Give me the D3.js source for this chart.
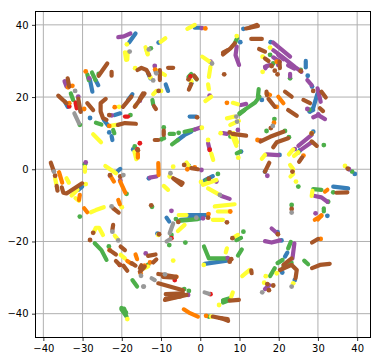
<!DOCTYPE html>
<html lang="en">
<head>
<meta charset="utf-8">
<title>scatter</title>
<script src="https://cdnjs.cloudflare.com/ajax/libs/d3/7.8.5/d3.min.js"></script>
<style>
  html, body { margin: 0; padding: 0; background: #fff; }
  svg { display: block; }
  text { font-family: "DejaVu Sans", sans-serif; font-size: 10px; fill: #000; }
</style>
</head>
<body>
<div id="main"></div>
<script>
// ticks
const xTicks = [-40,-30,-20,-10,0,10,20,30,40];
const yTicks = [-40,-20,0,20,40];

// each entry is one streak of points [x, y]; a single pair is a lone point
const red = [
  [[-33.4,17.4]],[[-31.8,18.5],[-31.5,16.9]],[[-19.2,14.6],[-18.4,14.6]],[[-15.4,7.2]],[[-16,5.5]],
  [[-2.5,25.7]],[[2.4,5.4]],[[-20.5,-26.5]],[[-6.5,-30.7]],[[2.6,-34.6]],[[15.3,7.9]],[[-7.35,-19.1]]
];
const blue = [
  [[-18.1,35.2],[-16.5,37.6]],[[-26.7,24.7],[-26,23.3]],[[-28.1,24.7],[-27.5,21.5]],
  [[-34.5,18.7],[-33.8,17.3]],[[-18.4,19.2],[-17.3,20.8]],[[-30.5,16.2]],[[-21.8,15],[-20.4,15.5]],
  [[-28.1,14.2]],[[-24.6,13.7],[-23.5,12.1]],[[-23.2,10.2]],[[-22.6,9.2],[-22.4,8.1]],
  [[-17.1,5.5]],[[-31.1,-5.7],[-30.1,-4.8]],[[-21.2,-0.65],[-20.4,0.1]],[[-13.1,-2.5]],
  [[-1.4,39.2],[-0.1,39.2]],[[11,38.9]],[[-10.6,35.1]],[[10.2,35.2]],[[-13.3,26.6],[-12.7,25.2]],
  [[-11.3,27]],[[-8.8,23.5],[-8.2,21.7]],[[-2.3,23.8]],[[15.7,19.2]],[[17.95,35.2]],
  [[26.9,30],[26.9,28.2]],[[27.4,25.9]],[[28.5,22.9]],[[29.9,21],[28.8,17],[28,16]],
  [[27.8,16],[28.8,16.4]],[[28.8,10.4]],[[25.4,5.2]],[[20.2,3.97]],[[16.5,-0.65]],[[39.4,-1.3]],
  [[33.9,-4.8],[37.7,-5.3]],[[32.4,-12.9]],[[-2.7,14.6],[-1,14.6]],[[10.4,4.9]],
  [[-5.7,8.1],[-4,9.5],[-2.3,10.4]],[[1.1,-3.1],[3.2,-1.9]],[[-3.1,-12.7],[1.5,-12.7]],
  [[-2.9,0.9]],[[-8.6,-13.4],[-7.9,-14.5]],[[-5,-14],[0,-13.6]],[[1.1,-26.2],[6.8,-25.3]],
  [[-10.9,-17.8]],[[19.7,-17.4]],[[20.7,-19.7]],[[21.6,-24.2],[22.2,-23.1]],[[20.9,-28.6]],[[24.1,-30.7]]
];
const green = [
  [[-25.9,26.4]],[[-27.6,26.8],[-26.7,24.7]],[[-28.8,26.3],[-28.4,24.7]],[[-33,21],[-32.4,19.2]],
  [[-30.7,12.3]],[[-26.6,12.9],[-25.2,12.4]],[[-22.2,10.9],[-21.9,10]],[[-17.8,15]],[[-16.7,6.3]],
  [[-29.4,1.4]],[[-18.8,-6.8]],[[-30.7,-13.1]],[[-12.6,33.5]],[[8.8,34.9],[9.4,36.3]],
  [[-2.3,26.4],[-3,25.6]],[[-0.9,24.9],[-1.4,25.6]],[[-12.2,19.2],[-12,18]],
  [[10,15.5],[12,17],[14,18.5],[15.1,20.1]],[[14.9,22.2],[14.7,20.1]],[[17.8,31.7]],[[18.6,29.3]],
  [[25.6,27.5]],[[22.9,25.2]],[[27.8,16.5]],[[18.9,13.9]],[[16.9,10.6]],[[21.6,10.6]],[[22.6,8.9]],
  [[25,4.7]],[[31.5,6.7]],[[38.7,-0.65]],[[25,-4.8]],[[33.9,-6.4]],[[28.8,-5.5],[30.9,-5.7]],
  [[32.6,-9]],[[31.5,-10.8],[31.5,-11.7]],[[23.3,-9.9]],[[10,15.3],[11.3,16.4]],[[7.7,9.1]],
  [[9.3,4.4],[10.2,4.9]],[[-9.3,11.6]],[[-9.3,8.6]],[[-9.9,8.3]],[[-7.8,9.8],[-6.7,9.8]],[[-5.5,10.1]],
  [[-7.2,6.9],[-5.7,8.1]],[[-4,10.4],[-1.4,11]],[[4.5,-1.3]],[[1.6,-3.1]],[[-12.3,-10.4]],
  [[-5.6,-14.3],[-0.6,-13.8]],[[-6.2,-13.8]],[[-7.35,-18.2]],[[-7.9,-21]],[[-3.8,-20.3]],
  [[0.95,-21.4],[2.2,-24.7],[6.8,-24.7]],[[9.2,-19.6],[10.4,-19]],[[11,-17.3]],[[9.6,-23.9],[10.6,-22.2]],
  [[-4.1,-33.2]],[[-2.9,-33.7]],[[5.8,-36.9],[7.5,-36.2]],[[5.8,-36.3],[7.3,-35.8]],[[2.2,-40.8]],
  [[-26.9,-20.5],[-25.2,-22.4],[-23.9,-25.1]],[[-23.3,-21.4]],[[-17.3,-30.7],[-16.1,-32.5]],
  [[-20.1,-38.8],[-18.8,-40.8]],[[-19.4,-38.6],[-19,-40]],[[-20.1,-38.4],[-18.9,-39.6]],[[-13.3,-26.5]],
  [[22.4,-21.9],[23.1,-20.1]],[[26.5,-25.3],[27.5,-26.3]],[[19,-27.4],[17.8,-29.6]],
  [[19.7,-26],[21,-25.1]],[[21.2,-27],[23.3,-25.9]]
];
const purple = [
  [[-20.9,36.6],[-19.5,36.8],[-17.8,37.6]],[[-34.6,24.4],[-34.1,22.9]],[[-28.3,25.2]],[[-31.1,20.1]],
  [[-15.4,19]],[[-22.6,14.9]],[[-29.2,1.9]],[[-23,-1.8]],[[-20.4,-3.1]],[[0.4,39.1]],
  [[9.3,34],[9,31.6],[9.9,28.9]],[[2.6,29.8]],[[2.4,20.4]],[[10.4,17.8],[11.7,18.1]],[[-11.6,28.6]],
  [[18.6,35.1],[19.6,34.2],[20.6,33.3],[21.6,32.4],[22.9,31.2]],
  [[18.6,33],[20.6,31.4],[22.6,29.7],[24.2,28.3],[25.8,27]],[[18.6,31],[20.3,29.8]],
  [[19.9,31.6],[21.2,30.5]],[[22.4,28.8],[24,27.9]],
  [[16.5,28.4],[17.8,28.9]],[[16.6,28],[17,28.6]],[[19.9,28.9]],[[22.9,26.4],[22.9,25.6]],
  [[27.3,24.7],[28.4,23.3]],[[29.9,22.4],[30.7,18.7]],[[27.3,16.7]],[[30.1,15.2]],
  [[28.8,14.4],[30.1,15],[31.8,13.9]],[[16.9,4.1],[19.9,3.9]],[[17.1,-1.8]],[[24.1,5.6]],
  [[25,6.5],[28.4,9.5]],[[25.8,5.5],[28.4,7.5]],[[37.9,0]],[[29.2,-7.4],[30.9,-7.8],[32.4,-9]],
  [[29.4,-12.2]],[[9.6,10.9]],[[5.8,10],[6.8,9.8]],[[-1.4,11],[-0.1,11.5]],
  [[2,7.2],[2.4,5.4]],[[-12.9,-2.3],[-11.2,-2]],[[0.3,-0.2]],[[4.1,-3.4]],[[5.4,-7.4],[7.5,-8.2]],
  [[-7.35,-11.5]],[[0.7,-13.6]],[[-13.9,-23.3]],[[7,-24.6]],[[-3.1,-34.8]],
  [[18.2,-16.4],[19.7,-17.8]],[[16.5,-19.9],[18.2,-20.3],[20.3,-19.7]],[[24,-20.5],[23.5,-24.7]],
  [[16.5,-33.2],[17.6,-32.1]]
];
const orange = [
  [[-29.2,27.1]],[[-33.7,22.7]],[[-32.6,23.1]],[[-33.4,18.3]],[[-29.6,16.7]],[[-21.8,17.2]],
  [[-23.2,12]],[[-15.9,4.4],[-15.9,3.2]],[[-36,-0.8],[-35.2,-3.7]],[[-30.7,-7.1],[-30.9,-8.5]],
  [[-22.8,-2],[-22,-3.4]],[[-20.4,-3.4],[-19.1,-6.5]],[[-20.9,-8.5],[-20.5,-9.7]],
  [[-29.6,-10.8],[-28.8,-11.9]],[[1.3,39]],[[6.8,18.4]],[[-11.5,27.6]],[[16.9,21],[17.8,20.6]],
  [[19.9,20.1],[21.2,18.3]],[[19.5,17.3]],[[19.5,29.8]],[[18.8,12.9]],[[14.6,8.1]],[[26.3,3.8]],
  [[31.8,-6.2],[32.4,-5.7]],[[30.9,-12.7],[30,-13.9]],[[-10.7,1.7],[-10.6,-1.6]],[[-3.3,0]],[[-1.4,0.5]],
  [[2.1,-12.4]],[[7.65,-11.7]],[[-6.1,-29.8]],[[-4.2,-38.8],[-2.9,-39.7],[-0.6,-40.8]],[[1.5,-40.6]],
  [[-23.1,-22.4]],[[-18.6,-25.4],[-17.5,-26.2]],[[-16.5,-23.6],[-16.1,-24.9]],[[-15.2,-28.8]],
  [[-14.2,-26.7]],[[-12.8,-25.8]],[[29.2,-14],[30.9,-12.9]],[[30.7,-19.3]]
];
const yellow = [
  [[-18.7,34.6]],[[-19.2,32.4],[-18.9,30.3]],[[-18.5,32.4],[-18.6,30.4]],[[-13.7,33],[-13.4,32]],
  [[-16.6,28]],[[-20.7,17.3]],[[-16.5,17.6]],[[-22.6,12.1],[-21.4,12.3]],[[-27.3,9.7],[-25.3,7.5]],
  [[-16.8,4.9],[-16.3,2.8]],[[-29.4,0.7],[-29.4,-0.7]],[[-37,-2.5],[-36.7,-4.1]],[[-34.1,-2.5],[-33.5,-3.7]],
  [[-32.8,-7.3],[-31.3,-5.7]],[[-29.2,-4.1]],[[-31.8,-8],[-30.9,-8.7]],[[-24.2,0.9],[-21.5,-1.1]],
  [[-20,-10.5]],[[-27.9,-11.9],[-26.6,-11.3],[-24.6,-10.5]],[[-3.3,38.9],[-1.4,40]],[[9.3,36.9]],
  [[-10.1,35.3],[-8.9,36.3]],[[-13.96,33.8],[-13.4,31.8]],[[0.5,31.2],[2.4,29.8]],[[2.6,28.4],[2.2,25.6]],
  [[2,23.5],[2.2,22.2]],[[1.3,18.9],[2.8,20.1]],[[8.3,18.4],[9.6,18]],[[-2.3,24.4]],[[-12.7,25.4]],
  [[-11.3,27.5],[-9,26.1]],[[-12,20.8],[-11.2,21.7]],[[-10,21.7]],[[17.8,33.7]],[[15.9,31.2]],[[15.9,27]],
  [[15.7,2.9],[16.5,4]],[[22.9,1.2],[23.7,0]],[[23,-2],[23.7,-1.3]],[[22.6,4.1],[23.7,5.5]],[[28.4,10]],
  [[23.9,3.7],[25,4.7]],[[36.9,0.9]],[[24.4,-3.4]],[[28.6,-6],[28.4,-7.4]],[[6.8,14.1],[8.75,14.6]],
  [[7.65,12.3],[9.85,13.4]],[[5.2,10]],[[7.9,10],[9.2,6.5]],[[8.5,10],[9.4,7.5]],[[9.7,3.2]],[[0.4,11.5]],
  [[2,8.1]],[[2.8,4.4],[3.3,2.6]],[[-6.9,0.7]],[[-3.5,1.9],[-2.7,0.55]],[[-7.8,-2]],[[-9.3,-4.6],[-8.2,-5.7]],
  [[0.2,-3.5]],[[0.7,-4.3],[4.1,-3]],[[2,-5.3],[4.5,-6.8]],[[3.7,-10.3],[8.75,-9.7]],[[4.5,-11.7],[7.1,-11.7]],
  [[-5.5,-12.7],[-3.5,-12.7]],[[3.2,-14],[5.8,-14]],[[-5.7,-17.1],[-4,-15.4]],[[-10.7,-18.2]],
  [[0.9,-26.5]],[[6.5,-23],[6.8,-21.9]],[[8.75,-18.7],[9.6,-18.2]],[[-6.9,-25.3]],[[-14.2,-27.4],[-13.3,-26.9]],
  [[2.8,-40.8]],[[8.3,-34.1],[7.9,-35.3]],[[4.8,-37.6]],[[10.7,-29.6],[12.6,-27.9]],
  [[-27.1,-17.3],[-26.6,-16.2],[-25.8,-16.2],[-24.8,-18.2]],[[-21.8,-18.4],[-21.1,-19.3]],
  [[-20.3,-23.7],[-19.2,-24.7]],[[-18.6,-41.5]],[[19.5,-28.8]],[[16.7,-29.6]],[[23.7,-31.6]],[[16.3,-31.4]]
];
const brown = [
  [[-16,27.5],[-15,28.1],[-13.7,27.5],[-13,26.1]],[[-22.6,27],[-22.6,25.9]],[[-23.7,29.3],[-25.9,25.9]],
  [[-33.8,25.2],[-33.4,22.9]],[[-31.1,19.6],[-30.5,15.9]],[[-36.2,20.4],[-34.1,18.3]],[[-28.8,18.3],[-27.3,16.4]],
  [[-24.1,19.5],[-25.4,18.3],[-25.4,16],[-24.8,14.2],[-23.9,13.7]],[[-19.7,17.3],[-17.55,20.1]],
  [[-16.7,17.3],[-14.2,21]],[[-23.2,15]],[[-21,12.3],[-19.2,12.8],[-16.4,12.6]],[[-15.9,5.3]],
  [[-38.1,1.8],[-37.3,-0.6]],[[-37,-1.8]],[[-36.6,-4.6],[-36.4,-5.9]],
  [[-35.3,-5],[-34.9,-6.5],[-34.1,-6.7],[-30.1,-3.9]],[[-23,-1.6]],[[-20.4,-2]],
  [[-22.2,-10.8],[-20.8,-12]],[[11.7,39],[14.7,39.7]],[[5.8,31.8],[7.7,33.5],[8.8,34.9]],[[5.8,32.3],[7,33]],
  [[13,36.1],[15.7,36.1]],[[15,33.3],[16.5,32.6]],[[6.1,26.3]],[[-10.3,27.5],[-10.3,24.7]],
  [[-8.2,28.1],[-6.9,28.1]],[[-1.6,26],[-0.9,25]],[[-3,24.9]],[[-2.9,22.1],[-2.3,23.6]],
  [[-14.6,21],[-15.4,19.5]],[[-10.6,21.7]],[[-11.8,17.5],[-11.3,16.7]],[[-12.5,-10]],[[12.7,39.3],[14.4,40]],
  [[16.5,30.7],[17.4,30]],[[18.2,28.6]],[[20.2,29.8],[20.3,28]],[[19,27.3]],[[19.7,26.3]],[[25.6,27.2]],
  [[28.8,21.7]],[[30.9,21.5],[32,19.9]],[[21.6,21.5],[23.3,20.1]],[[16.9,21.5],[17,20.5]],
  [[17.4,19.5],[19,17.3]],[[26.3,19.2],[28,18.3]],[[22.4,16.4],[24.6,14.8]],[[30.5,16.9],[31.3,16.1]],
  [[18,11.4]],[[15.4,7.7],[17.8,9],[21.2,10.4]],[[18.6,6.1],[19.5,7.5],[22.4,8.6]],[[17.6,1.8],[16.5,-0.65]],
  [[23.5,-0.65]],[[28.4,9.9]],[[28.4,7.7],[29.7,6.5]],[[25.2,2.1],[26,3.3]],[[37.6,0.2]],
  [[34.7,-6.5],[37.5,-6.4]],[[23.3,-11]],[[-0.8,14.4]],[[7.5,10.2]],[[8.2,9.8],[11.7,9.3]],
  [[-9.3,10.7],[-9.3,9.5]],[[-11.6,8.1],[-10.7,8.1]],[[-4.1,1.2]],[[-2.3,0.3],[-0.6,0]],
  [[-6.9,-2.5],[-4.8,-4.3]],[[-6.5,-2.7],[-4.5,-3.8]],[[2.2,-2.6]],[[2,-13.4]],[[6.8,-14.7]],[[-5.6,-14.6]],
  [[-10.5,-18]],[[7.5,-25.6]],[[7.9,-24.9]],[[8.2,-19.1]],[[-13.3,-24],[-11.4,-23.6]],
  [[-15.4,-27.4],[-15,-26.6]],[[-12,-25.8],[-11.2,-25]],[[-10.7,-31.6],[-4.4,-33.5]],
  [[-8.8,-34.6],[-4.4,-34.4]],[[-9,-36.2],[-3.5,-34.8]],[[-8.8,-35.8],[-5,-35.2]],
  [[-10.7,-29],[-6.1,-29.8]],[[-9.5,-29.8],[-6.5,-30]],[[3.2,-40.8],[5.5,-41.3],[7.1,-42]],[[5,-41.2],[7,-41.5]],
  [[7.5,-36.4],[9.85,-36.2]],[[13,-28],[13.1,-28.8]],
  [[-27.3,-17.6]],[[-22.2,-15.4],[-22.4,-16.8]],[[-28.1,-19.6]],[[-23.1,-22.4],[-21.5,-23.6]],
  [[-20.3,-21.4],[-19.2,-22.4]],[[-17.5,-26],[-16.5,-26.7]],[[-21.5,-25.4],[-20.5,-26.5]],
  [[-19.6,-26.7],[-18.6,-28.1]],[[-15.4,-28.4],[-14.2,-27]],[[19.8,-18]],[[28.5,-20.3],[30,-19.3]],
  [[28.5,-27.4],[30.5,-26.5],[33,-26.2]],[[21.2,-26.5],[23.3,-24.7]],
  [[20.3,-27.9],[23.3,-26.5],[24.6,-27.9],[24.3,-30.2]],[[17.1,-31.8]],[[18.6,-32.2]],[[17.5,-33.5]]
];
const grey = [
  [[-18,32.6]],[[-31.9,21.7]],[[-32.1,15.5],[-30.9,12.7]],[[-37.3,-0.65]],[[-19.6,-1.6]],[[-22.6,-10.3]],
  [[3,29.3]],[[-12,24.6]],[[-13.1,33.2]],[[-11.2,26.6]],[[18.5,12]],[[23.3,-12]],[[9.2,14.6]],[[9.4,13.2]],
  [[-7.6,-1.1]],[[5,-7.1]],[[-1,-13.4]],[[-6.9,-15],[-7.8,-17.7]],[[-8.6,-20],[-7.6,-19.3]],[[-15.1,-29.5]],
  [[-12.4,-30.2],[-11.6,-30.7]],[[-14.5,-32.5]],[[-9,-29.1]],[[1.1,-34.1],[2.2,-34.5]],[[-22.4,-17.3]],
  [[-20.9,-19.7]],[[-14.4,-32.5]],[[23.3,-32.5]],[[15.8,-34.1]]
];

const seriesList = [
  [blue, "#377eb8"], [green, "#4daf4a"], [purple, "#984ea3"], [yellow, "#ffff33"],
  [red, "#e41a1c"], [orange, "#ff7f00"], [brown, "#a65628"], [grey, "#999999"]
];

const width = 380, height = 361;
const x = d3.scaleLinear().domain([-42, 43.4]).range([35.5, 370.5]);
const y = d3.scaleLinear().domain([-46.6, 43.7]).range([337.5, 11.5]);

const svg = d3.select("#main").append("svg")
  .attr("width", width)
  .attr("height", height);

// grid under the marks
svg.append("g").selectAll("line").data(xTicks).enter().append("line")
  .attr("x1", d => x(d)).attr("x2", d => x(d))
  .attr("y1", y.range()[0]).attr("y2", y.range()[1])
  .style("stroke", "#b0b0b0").style("stroke-width", 1);
svg.append("g").selectAll("line").data(yTicks).enter().append("line")
  .attr("x1", x.range()[0]).attr("x2", x.range()[1])
  .attr("y1", d => y(d)).attr("y2", d => y(d))
  .style("stroke", "#b0b0b0").style("stroke-width", 1);

const line = d3.line().x(d => x(d[0])).y(d => y(d[1]));

seriesList.forEach(([streaks, colour]) => {
  const g = svg.append("g");
  g.selectAll("path").data(streaks.filter(s => s.length > 1)).enter().append("path")
    .attr("d", line)
    .style("fill", "none")
    .style("stroke", colour)
    .style("stroke-width", 4.2)
    .style("stroke-linecap", "round")
    .style("stroke-linejoin", "round");
  g.selectAll("circle").data(streaks.filter(s => s.length === 1)).enter().append("circle")
    .attr("cx", d => x(d[0][0]))
    .attr("cy", d => y(d[0][1]))
    .attr("r", 2.4)
    .style("fill", colour);
});

// axes and frame on top
const xAxis = svg.append("g").attr("transform", `translate(0,${y.range()[0]})`)
  .call(d3.axisBottom(x).tickValues(xTicks).tickSize(3.5).tickPadding(3.5));
const yAxis = svg.append("g").attr("transform", `translate(${x.range()[0]},0)`)
  .call(d3.axisLeft(y).tickValues(yTicks).tickSize(3.5).tickPadding(3.5));
[xAxis, yAxis].forEach(a => {
  a.select(".domain").remove();
  a.selectAll("line").style("stroke", "#000").style("stroke-width", 0.8);
  a.selectAll("text").style("font-family", '"DejaVu Sans", sans-serif').style("font-size", "10px").style("fill", "#000");
});
svg.append("rect")
  .attr("x", x.range()[0]).attr("y", y.range()[1])
  .attr("width", x.range()[1] - x.range()[0])
  .attr("height", y.range()[0] - y.range()[1])
  .style("fill", "none").style("stroke", "#000").style("stroke-width", 1);
</script>
</body>
</html>
